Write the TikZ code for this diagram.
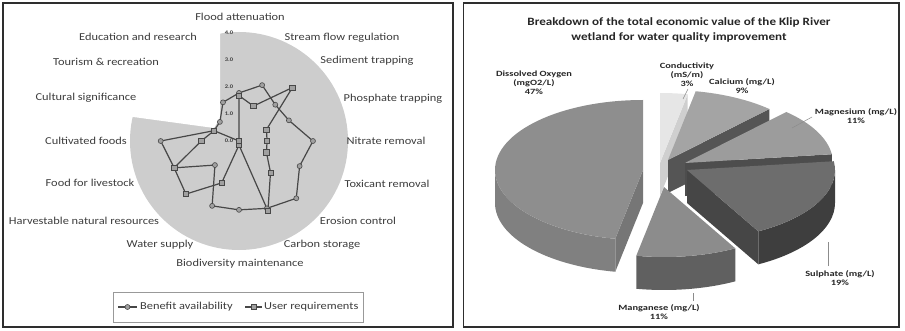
\documentclass[tikz,border=0pt]{standalone}
\usepackage{fontspec}
\setmainfont{Carlito}[FakeStretch=1.17]
\newfontfamily\piefont{Carlito}[FakeStretch=1.3]
\usetikzlibrary{calc}

\definecolor{labeltext}{HTML}{3C3C3C}
\definecolor{framecol}{HTML}{2E2E2E}
\definecolor{radarbg}{HTML}{CDCDCD}
\definecolor{seriesline}{HTML}{474747}
\definecolor{markerfill}{HTML}{A0A0A0}
% pie slice shades
\definecolor{doTop}{HTML}{8E8E8E}
\definecolor{doWall}{HTML}{808080}
\definecolor{doCut}{HTML}{767676}
\definecolor{coTop}{HTML}{E6E6E6}
\definecolor{coCut}{HTML}{CFCFCF}
\definecolor{caTop}{HTML}{A4A4A4}
\definecolor{caCut}{HTML}{555555}
\definecolor{mgTop}{HTML}{9C9C9C}
\definecolor{mgCut}{HTML}{4D4D4D}
\definecolor{suTop}{HTML}{6D6D6D}
\definecolor{suWall}{HTML}{3E3E3E}
\definecolor{suCut}{HTML}{464646}
\definecolor{mnTop}{HTML}{8C8C8C}
\definecolor{mnWall}{HTML}{606060}

\begin{document}
\begin{tikzpicture}[x=1pt,y=1pt,
  axislabel/.style={text=labeltext,font=\fontsize{10.6}{12}\selectfont,inner sep=0pt},
  scalelabel/.style={text=labeltext,font=\bfseries\fontsize{5.5}{6}\selectfont,inner sep=0pt},
  series/.style={draw=seriesline,line width=1.2pt,line join=round},
  dotmark/.style={circle,draw=seriesline,fill=markerfill,line width=0.6pt,minimum size=5pt,inner sep=0pt},
  boxmark/.style={rectangle,draw=seriesline,fill=markerfill,line width=0.6pt,minimum size=5.4pt,inner sep=0pt},
  frame/.style={draw=framecol,line width=1.3pt},
  pr/.style={x radius=148pt,y radius=70pt},
  pielabel/.style={text=black!85,font=\piefont\bfseries\fontsize{8}{9}\selectfont,align=center,inner sep=0pt},
  leader/.style={draw=black!45,line width=0.5pt}
]
\useasboundingbox (0,0) rectangle (905,330);

% ---------------- radar chart ----------------
\coordinate (C) at (239,189);
\fill[radarbg] (C) circle[radius=109pt];
\fill[white] (220,318) -- (220,212) -- (214,202) -- (126,214) -- (126,318) -- cycle;

% scale
\node[scalelabel] (s4) at (229,297) {4.0};
\node[scalelabel] (s3) at (229,270) {3.0};
\node[scalelabel] (s2) at (229,243) {2.0};
\node[scalelabel] (s1) at (229,216) {1.0};
\node[scalelabel] (s0) at (229,189) {0.0};

% benefit availability
\foreach \v [count=\k from 0] in {1.78,2.24,1.9,2.0,2.74,2.43,3.0,2.7,2.55,2.6,1.26,2.6,2.9,1.0,1.0,1.55}
  \coordinate (a\k) at ($(C)+({90-22.5*\k}:{\v*27pt})$);
% user requirements
\foreach \v [count=\k from 0] in {1.68,1.4,2.8,1.1,1.04,1.1,1.65,2.8,0.15,1.68,2.78,2.6,1.4,1.0,0.0,0.0}
  \coordinate (b\k) at ($(C)+({90-22.5*\k}:{\v*27pt})$);

\draw[series] (a0) \foreach \k in {1,...,15}{ -- (a\k)} -- cycle;
\draw[series] (b0) \foreach \k in {1,...,15}{ -- (b\k)} -- cycle;
\foreach \k in {0,...,15} \node[dotmark] (ma\k) at (a\k) {};
\foreach \k in {0,...,15} \node[boxmark] (mb\k) at (b\k) {};

% category labels
\node[axislabel] (l0)  at (240,313) {Flood attenuation};
\node[axislabel] (l1)  at (342,292) {Stream flow regulation};
\node[axislabel] (l2)  at (367,269) {Sediment trapping};
\node[axislabel] (l3)  at (393,231) {Phosphate trapping};
\node[axislabel] (l4)  at (386,189) {Nitrate removal};
\node[axislabel] (l5)  at (387,146) {Toxicant removal};
\node[axislabel] (l6)  at (358,109) {Erosion control};
\node[axislabel] (l7)  at (322,85)  {Carbon storage};
\node[axislabel] (l8)  at (240,66)  {Biodiversity maintenance};
\node[axislabel] (l9)  at (160,85)  {Water supply};
\node[axislabel] (l10) at (84,109)  {Harvestable natural resources};
\node[axislabel] (l11) at (90,147)  {Food for livestock};
\node[axislabel] (l12) at (86,189)  {Cultivated foods};
\node[axislabel] (l13) at (86,232)  {Cultural significance};
\node[axislabel] (l14) at (106,268) {Tourism \& recreation};
\node[axislabel] (l15) at (138,293) {Education and research};

% legend
\node[draw=black!40,line width=0.7pt,minimum width=250pt,minimum height=30pt,inner sep=0pt] (legend) at (238,23) {};
\coordinate (k1a) at (118,23); \coordinate (k1b) at (137,23);
\coordinate (k2a) at (245,23); \coordinate (k2b) at (262,23);
\draw[series] (k1a) -- (k1b);
\node[dotmark] (lm1) at (127.5,23) {};
\node[axislabel,anchor=west] (lt1) at (140,23) {Benefit availability};
\draw[series] (k2a) -- (k2b);
\node[boxmark] (lm2) at (253.5,23) {};
\node[axislabel,anchor=west] (lt2) at (264,23) {User requirements};

\draw[frame] (3,3) rectangle (453,327);

% ---------------- 3D pie chart ----------------
\node[font=\bfseries\fontsize{11.2}{15}\selectfont,text=black!85,align=center,inner sep=0pt] (title) at (679,300)
  {Breakdown of the total economic value of the Klip River\\wetland for water quality improvement};

% conductivity
\coordinate (pCo) at (660,167);
\fill[coCut] (pCo) -- ($(pCo)+(79.2:148pt and 70pt)$) -- ++(0,-33) -- ($(pCo)+(0,-33)$) -- cycle;
\fill[coTop] (pCo) -- ($(pCo)+(79.2:148pt and 70pt)$) arc[pr,start angle=79.2,end angle=90] -- cycle;

% calcium
\coordinate (pCa) at (668,170);
\fill[caCut] (pCa) -- ($(pCa)+(46.8:148pt and 70pt)$) -- ++(0,-33) -- ($(pCa)+(0,-33)$) -- cycle;
\fill[caTop] (pCa) -- ($(pCa)+(46.8:148pt and 70pt)$) arc[pr,start angle=46.8,end angle=79.2] -- cycle;

% magnesium
\coordinate (pMg) at (685,167);
\fill[mgCut] (pMg) -- ($(pMg)+(7.2:148pt and 70pt)$) -- ++(0,-33) -- ($(pMg)+(0,-33)$) -- cycle;
\fill[mgTop] (pMg) -- ($(pMg)+(7.2:148pt and 70pt)$) arc[pr,start angle=7.2,end angle=46.8] -- cycle;

% dissolved oxygen
\coordinate (pDO) at (643,160);
\fill[doWall] ($(pDO)+(180:148pt and 70pt)$) arc[pr,start angle=180,end angle=259.2] -- ++(0,-33)
  arc[pr,start angle=259.2,end angle=180] -- cycle;
\fill[doCut] (pDO) -- ($(pDO)+(259.2:148pt and 70pt)$) -- ++(0,-33) -- ($(pDO)+(0,-33)$) -- cycle;
\fill[doTop] (pDO) -- ($(pDO)+(90:148pt and 70pt)$) arc[pr,start angle=90,end angle=259.2] -- cycle;

% sulphate
\coordinate (pSu) at (687,160);
\fill[suWall] ($(pSu)+(-61.2:148pt and 70pt)$) arc[pr,start angle=-61.2,end angle=0] -- ++(0,-33)
  arc[pr,start angle=0,end angle=-61.2] -- cycle;
\fill[suCut] (pSu) -- ($(pSu)+(-61.2:148pt and 70pt)$) -- ++(0,-33) -- ($(pSu)+(0,-33)$) -- cycle;
\fill[suTop] (pSu) -- ($(pSu)+(-61.2:148pt and 70pt)$) arc[pr,start angle=-61.2,end angle=7.2] -- cycle;

% manganese
\coordinate (pMn) at (664,143);
\fill[mnWall] ($(pMn)+(-100.8:148pt and 70pt)$) arc[pr,start angle=-100.8,end angle=-61.2] -- ++(0,-33)
  arc[pr,start angle=-61.2,end angle=-100.8] -- cycle;
\fill[mnTop] (pMn) -- ($(pMn)+(-100.8:148pt and 70pt)$) arc[pr,start angle=-100.8,end angle=-61.2] -- cycle;

% slice labels
\node[pielabel] (tDO) at (534,247) {Dissolved Oxygen\\(mgO2/L)\\47\%};
\node[pielabel] (tCo) at (687,255) {Conductivity\\(mS/m)\\3\%};
\node[pielabel] (tCa) at (742,244) {Calcium (mg/L)\\9\%};
\node[pielabel] (tMg) at (856,214) {Magnesium (mg/L)\\11\%};
\node[pielabel] (tSu) at (840,52)  {Sulphate (mg/L)\\19\%};
\node[pielabel] (tMn) at (659,18)  {Manganese (mg/L)\\11\%};

% leader lines
\coordinate (cCo1) at (688,241); \coordinate (cCo2) at (683,231);
\coordinate (cMg1) at (812,213); \coordinate (cMg2) at (792,202);
\coordinate (cSu1) at (828,64);  \coordinate (cSu2) at (828,88);
\coordinate (cMn1) at (693,29);  \coordinate (cMn2) at (693,37);
\draw[leader] (cCo1) -- (cCo2);
\draw[leader] (cMg1) -- (cMg2);
\draw[leader] (cSu1) -- (cSu2);
\draw[leader] (cMn1) -- (cMn2);

\draw[frame] (463.5,3) rectangle (899,327);
\end{tikzpicture}
\end{document}
